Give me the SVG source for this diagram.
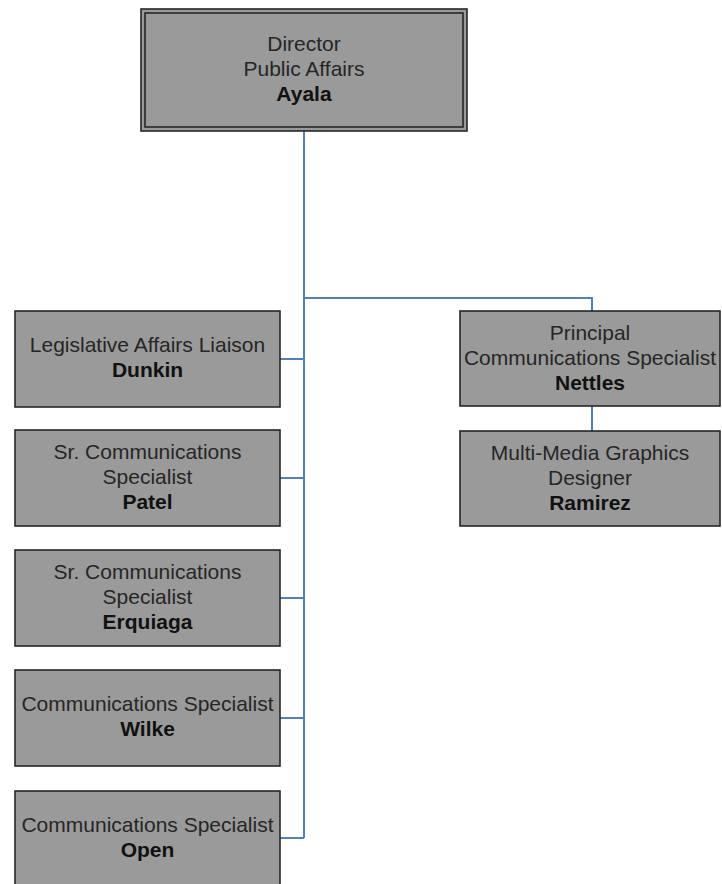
<svg xmlns="http://www.w3.org/2000/svg" width="722" height="884" viewBox="0 0 722 884">
  <style>
    .box { fill: #9a9a9a; stroke: #262626; stroke-width: 1.6; }
    .frame { fill: none; stroke: #262626; stroke-width: 1.6; }
    .t { font-family: "Liberation Sans", Arial, sans-serif; font-size: 21px; fill: #262626; text-anchor: middle; }
    .b { font-weight: bold; fill: #111; }
    .link { fill: none; stroke: #4f7fc2; stroke-width: 2; }
  </style>
  <rect width="722" height="884" fill="#ffffff"/>

  <g id="connectors">
    <!-- trunk from the director down to the last report -->
    <path class="link" d="M304 131 V838"/>
    <!-- branch to the right-hand column -->
    <path class="link" d="M304 298 H592 V311"/>
    <path class="link" d="M592 406 V431"/>
    <!-- left-hand reports -->
    <path class="link" d="M280 359 H304"/>
    <path class="link" d="M280 478 H304"/>
    <path class="link" d="M280 598 H304"/>
    <path class="link" d="M280 718 H304"/>
    <path class="link" d="M280 838 H304"/>
  </g>

  <g id="ayala">
    <rect class="box" x="141" y="9" width="326" height="122"/>
    <rect class="frame" x="145" y="13" width="318" height="114"/>
    <text class="t" x="304" y="51">Director</text>
    <text class="t" x="304" y="76">Public Affairs</text>
    <text class="t b" x="304" y="101">Ayala</text>
  </g>

  <g id="dunkin">
    <rect class="box" x="15" y="311" width="265" height="96"/>
    <text class="t" x="147.5" y="352">Legislative Affairs Liaison</text>
    <text class="t b" x="147.5" y="377">Dunkin</text>
  </g>

  <g id="patel">
    <rect class="box" x="15" y="430" width="265" height="96"/>
    <text class="t" x="147.5" y="459">Sr. Communications</text>
    <text class="t" x="147.5" y="484">Specialist</text>
    <text class="t b" x="147.5" y="509">Patel</text>
  </g>

  <g id="erquiaga">
    <rect class="box" x="15" y="550" width="265" height="96"/>
    <text class="t" x="147.5" y="579">Sr. Communications</text>
    <text class="t" x="147.5" y="604">Specialist</text>
    <text class="t b" x="147.5" y="629">Erquiaga</text>
  </g>

  <g id="wilke">
    <rect class="box" x="15" y="670" width="265" height="96"/>
    <text class="t" x="147.5" y="711">Communications Specialist</text>
    <text class="t b" x="147.5" y="736">Wilke</text>
  </g>

  <g id="open">
    <rect class="box" x="15" y="791" width="265" height="96"/>
    <text class="t" x="147.5" y="832">Communications Specialist</text>
    <text class="t b" x="147.5" y="857">Open</text>
  </g>

  <g id="nettles">
    <rect class="box" x="460" y="311" width="260" height="95"/>
    <text class="t" x="590" y="340">Principal</text>
    <text class="t" x="590" y="365">Communications Specialist</text>
    <text class="t b" x="590" y="390">Nettles</text>
  </g>

  <g id="ramirez">
    <rect class="box" x="460" y="431" width="260" height="95"/>
    <text class="t" x="590" y="460">Multi-Media Graphics</text>
    <text class="t" x="590" y="485">Designer</text>
    <text class="t b" x="590" y="510">Ramirez</text>
  </g>
</svg>
